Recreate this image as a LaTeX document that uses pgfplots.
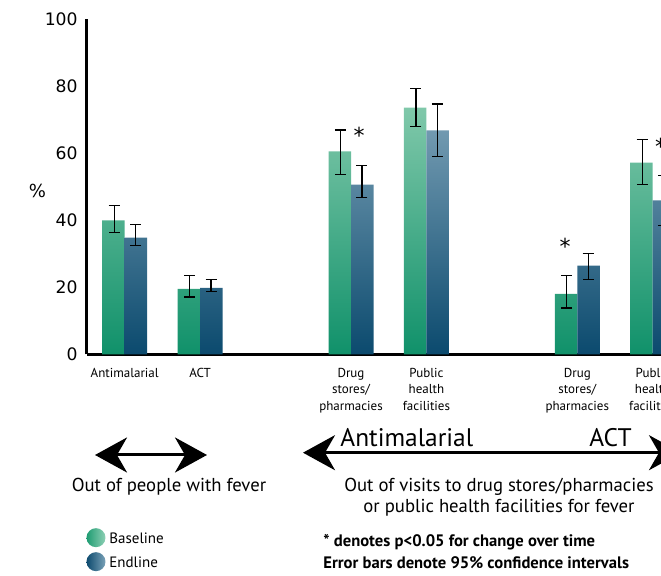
\documentclass[border=0pt]{standalone}
\usepackage{pgfplots}
\pgfplotsset{compat=1.18}
\usepackage{pgfplotstable}
\usepackage{fontspec}
\setmainfont{PT Sans}
\newfontfamily\dejavu{DejaVu Sans}
\usetikzlibrary{arrows.meta}
\definecolor{bTop}{HTML}{80C8AA}
\definecolor{bBot}{HTML}{10916A}
\definecolor{eTop}{HTML}{7199B0}
\definecolor{eBot}{HTML}{0B4A6E}
\definecolor{lgB1}{HTML}{1E9C72}
\definecolor{lgB2}{HTML}{8FD0B5}
\definecolor{lgE1}{HTML}{0D4A6E}
\definecolor{lgE2}{HTML}{7AA2B8}

\pgfplotstableread{
x b bp bm e ep em
0 40.0 4.5 3.6 34.9 3.9 2.4
1 19.6 3.9 2.4 19.9 2.5 1.2
3 60.6 6.4 6.9 50.7 5.8 3.8
4 73.7 5.8 5.6 66.9 7.9 7.8
6 18.1 5.5 4.2 26.5 3.7 4.2
7 57.3 6.9 6.5 46.0 7.5 7.4
}\datatable

\begin{document}
\begin{tikzpicture}
\begin{axis}[
  at={(43.5pt,-177.25pt)}, anchor=south west, scale only axis,
  width=305.5pt, height=167.5pt,
  xmin=-0.5, xmax=7.6, ymin=0, ymax=100,
  axis x line*=bottom, axis y line*=left,
  axis line style={line width=1.5pt, -},
  ytick={0,20,...,100}, xtick={0,1,3,4,6,7},
  xticklabels={Antimalarial, ACT, {Drug\\stores/\\pharmacies}, {Public\\health\\facilities}, {Drug\\stores/\\pharmacies}, {Public\\health\\facilities}},
  major tick length=0pt, tick style={draw=none},
  /pgf/number format/assume math mode=true,
  yticklabel style={font=\dejavu\fontsize{8.6}{10}\selectfont, inner sep=0pt, xshift=-4.5pt},
  xticklabel style={font=\fontsize{6.5}{8.25}\selectfont, align=center, anchor=north, inner sep=0pt, yshift=-6.5pt},
  clip=false,
]
\addplot[ybar, bar width=11.25pt, bar shift=-5.625pt, draw=none, top color=bTop, bottom color=bBot] table[x=x,y=b]{\datatable};
\addplot[ybar, bar width=11.25pt, bar shift=5.625pt, draw=none, top color=eTop, bottom color=eBot] table[x=x,y=e]{\datatable};
\addplot[draw=none, no markers, forget plot,
  error bars/.cd, y dir=both, y explicit,
  error bar style={draw=black, line width=0.65pt},
  error mark options={draw=black, rotate=90, mark size=2.75pt, line width=0.65pt}]
  table[x expr=\thisrow{x}-0.14, y=b, y error plus=bp, y error minus=bm]{\datatable};
\addplot[draw=none, no markers, forget plot,
  error bars/.cd, y dir=both, y explicit,
  error bar style={draw=black, line width=0.65pt},
  error mark options={draw=black, rotate=90, mark size=2.75pt, line width=0.65pt}]
  table[x expr=\thisrow{x}+0.145, y=e, y error plus=ep, y error minus=em]{\datatable};
\node[font=\dejavu\fontsize{11}{11}\selectfont, anchor=north, inner sep=0pt] at (axis cs:3.106,67.9) {*};
\node[font=\dejavu\fontsize{11}{11}\selectfont, anchor=north, inner sep=0pt] at (axis cs:5.84,34.9) {*};
\node[font=\dejavu\fontsize{11}{11}\selectfont, anchor=north, inner sep=0pt] at (axis cs:7.106,64.7) {*};
\end{axis}
\begin{scope}[x=0.5pt,y=-0.5pt]
\node[font=\dejavu\fontsize{9}{9}\selectfont] at (37.5,190.5) {\%};
\draw[line width=1.5pt, {Stealth[length=16pt,width=17.5pt,inset=5pt]}-{Stealth[length=16pt,width=17.5pt,inset=5pt]}] (95,455) -- (207,455);
\draw[line width=1.5pt, {Stealth[length=16pt,width=17.5pt,inset=5pt]}-{Stealth[length=16pt,width=17.5pt,inset=5pt]}] (303,452.7) -- (681,452.7);
\node[anchor=base west, inner sep=0pt, font=\fontsize{12.7}{13}\selectfont] at (340,446.7) {Antimalarial};
\node[anchor=base east, inner sep=0pt, font=\fontsize{12.7}{13}\selectfont] at (632,446.7) {ACT};
\node[anchor=base, inner sep=0pt, font=\fontsize{9.35}{11}\selectfont] at (169,492) {Out of people with fever};
\node[anchor=base, inner sep=0pt, font=\fontsize{9.35}{11}\selectfont] at (499,492) {Out of visits to drug stores/pharmacies};
\node[anchor=base, inner sep=0pt, font=\fontsize{9.35}{11}\selectfont] at (499,513) {or public health facilities for fever};
\shade[left color=lgB1, right color=lgB2] (96,537.7) circle (4.75pt);
\shade[left color=lgE1, right color=lgE2] (96,561.7) circle (4.75pt);
\node[anchor=west, inner sep=0pt, font=\fontsize{7.5}{8}\selectfont] at (109,538) {Baseline};
\node[anchor=west, inner sep=0pt, font=\fontsize{7.5}{8}\selectfont] at (109,562) {Endline};
\node[anchor=west, inner sep=0pt, font=\bfseries\fontsize{8.3}{9}\selectfont] at (323,542) {* denotes p<0.05 for change over time};
\node[anchor=west, inner sep=0pt, font=\bfseries\fontsize{8.3}{9}\selectfont] at (323,563) {Error bars denote 95\% confidence intervals};
\end{scope}
\pgfresetboundingbox
\path[use as bounding box] (0pt,0pt) rectangle (330.5pt,-288pt);
\end{tikzpicture}
\end{document}
